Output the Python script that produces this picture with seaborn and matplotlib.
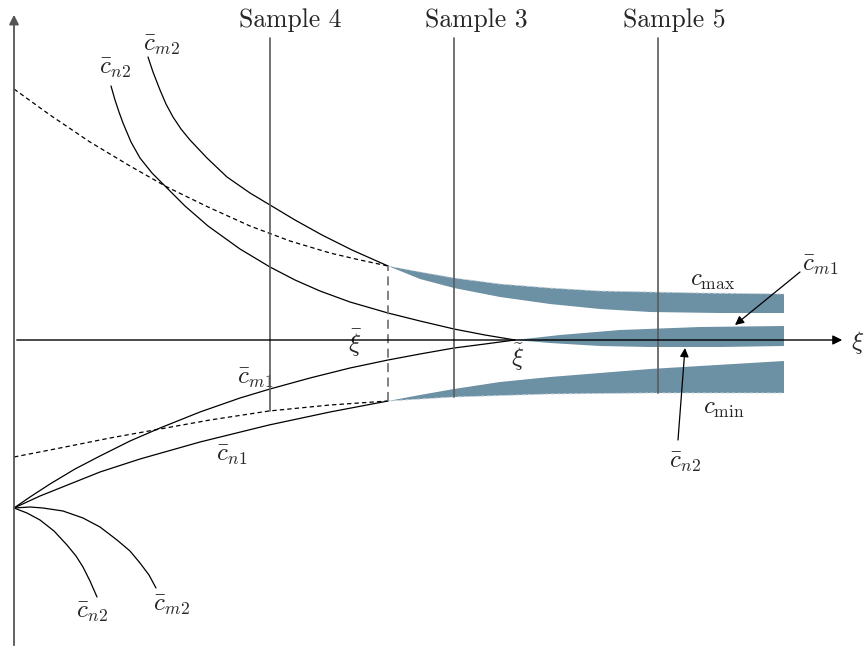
import numpy as np
import pandas as pd
import seaborn as sns
import matplotlib.pyplot as plt

# curve samples (xi along the axis, c up)
cmax_xi = [0, 36, 76, 116, 153, 194, 236, 276, 316, 346, 374, 406, 440, 486, 536, 586, 636, 686, 770]
cmax_c = [251, 225, 198, 174, 153, 133, 114, 99, 87, 80, 74, 68, 62, 56, 52, 49, 48, 47, 46]

cm2_xi = [134, 139, 146, 152, 159, 167, 176, 193, 213, 236, 256, 281, 308, 338, 374,
          406, 440, 486, 536, 586, 636, 706, 770]
cm2_c = [283, 268, 250, 236, 223, 211, 200, 182, 163, 147, 135, 120, 105, 90, 74,
         61, 52, 43, 36, 31, 28, 27, 27]

cn2_xi = [97, 101, 105, 109, 117, 126, 138, 151, 171, 194, 226, 256, 281, 306, 336, 374,
          406, 440, 471, 501, 536, 586, 636, 706, 770]
cn2_c = [254, 240, 228, 217, 198, 182, 167, 154, 134, 114, 91, 73, 60, 49, 38, 27,
         19, 11, 5, 0, -3, -6, -7, -7, -6]

cm1_xi = [0, 16, 36, 61, 86, 116, 146, 186, 226, 256, 296, 336, 374, 406, 440, 471, 501,
          546, 606, 686, 770]
cm1_c = [-168, -157, -144, -129, -116, -101, -88, -72, -58, -49, -38, -28, -20, -14, -8, -4, 0,
         5, 10, 13, 14]

cn1_xi = [0, 26, 56, 86, 126, 186, 255, 316, 374, 406, 440, 486, 536, 586, 636, 686, 770]
cn1_c = [-168, -156, -144, -132, -119, -102, -85, -72, -61, -55, -49, -42, -37, -33, -29, -26, -21]

cmin_xi = [0, 46, 96, 146, 196, 255, 316, 374, 440, 536, 636, 770]
cmin_c = [-117, -108, -98, -89, -80, -71, -65, -61, -57, -54, -53, -53]

# branches below the axis, starting at the same point
cn2_low_xi = [0, 13, 26, 40, 53, 62, 69, 76, 83]
cn2_low_c = [-168, -173, -180, -191, -205, -216, -227, -241, -257]
cm2_low_xi = [0, 16, 29, 49, 69, 86, 103, 116, 126, 135, 142]
cm2_low_c = [-168, -167, -168, -171, -178, -187, -200, -211, -223, -235, -248]

samples = ["Sample 4", "Sample 3", "Sample 5"]
sample_xi = [256, 440, 644]
sample_label_xi = [276, 462, 660]
sample_bottom = [-71, -57, -53]
sample_top = 302

xi_bar = 374
xi_tilde = 501

band = "#6c90a4"
sns.set_style("white")
plt.rcParams["mathtext.fontset"] = "cm"

fig = plt.figure(figsize=(8.66, 6.51), dpi=100)
ax = fig.add_axes([0, 0, 1, 1])
ax.set_xlim(-14, 852)
ax.set_ylim(-311, 340)
ax.axis("off")


def cut(xs, ys, lo=None, hi=None):
    xs, ys = np.array(xs), np.array(ys)
    m = np.ones(len(xs), bool)
    if lo is not None:
        m &= xs >= lo
    if hi is not None:
        m &= xs <= hi
    return xs[m], ys[m]


def line(xs, ys, **kw):
    df = pd.DataFrame({"xi": xs, "c": ys})
    sns.lineplot(data=df, x="xi", y="c", sort=False, estimator=None, ax=ax, **kw)


# shaded bands
def shade(top, bot, lo):
    tx, ty = cut(*top, lo=lo)
    bx, by = cut(*bot, lo=lo)
    ax.fill(np.r_[tx, bx[::-1]], np.r_[ty, by[::-1]], color=band, lw=0, zorder=2)


shade((cmax_xi, cmax_c), (cm2_xi, cm2_c), xi_bar)
shade((cm1_xi, cm1_c), (cn2_xi, cn2_c), xi_tilde)
shade((cn1_xi, cn1_c), (cmin_xi, cmin_c), xi_bar)

dash = (0, (3.5, 2.5))
k = dict(color="black", lw=0.9, zorder=3)
line(*cut(cmax_xi, cmax_c, hi=xi_bar), ls=dash, **k)
line(*cut(cmin_xi, cmin_c, hi=xi_bar), ls=dash, **k)
line(*cut(cmax_xi, cmax_c, lo=xi_bar), ls=dash, color="#c8d3da", lw=0.7, zorder=3)
line(*cut(cmin_xi, cmin_c, lo=xi_bar), ls=dash, color="#c8d3da", lw=0.7, zorder=3)
line(*cut(cm2_xi, cm2_c, hi=xi_bar), **k)
line(*cut(cn2_xi, cn2_c, hi=xi_tilde), **k)
line(*cut(cm1_xi, cm1_c, hi=xi_tilde), **k)
line(*cut(cn1_xi, cn1_c, hi=xi_bar), **k)
line(cn2_low_xi, cn2_low_c, **k)
line(cm2_low_xi, cm2_low_c, **k)

# sample positions
for name, sx, lx, sb in zip(samples, sample_xi, sample_label_xi, sample_bottom):
    ax.plot([sx, sx], [sb, sample_top], color="#5a5a5a", lw=1.2, zorder=4)
    ax.text(lx, 320, name, family="cmr10", fontsize=18.5, ha="center", va="center")

ax.plot([xi_bar, xi_bar], [-61, 74], color="#777777", lw=1.3, ls=(0, (5, 3)), zorder=4)

# axes
ax.annotate("", xy=(831, 0), xytext=(0, 0),
            arrowprops=dict(arrowstyle="-|>", color="black", lw=1.0, mutation_scale=14), zorder=5)
ax.annotate("", xy=(0, 328), xytext=(0, -308),
            arrowprops=dict(arrowstyle="-|>", color="#555555", lw=1.3, mutation_scale=14), zorder=5)

fs = 18
labels = [
    (r"$\bar{c}_{m2}$", 148, 295), (r"$\bar{c}_{n2}$", 101, 272),
    (r"$\bar{\xi}$", 341, -2), (r"$\tilde{\xi}$", 504, -17), (r"$\xi$", 844, -3),
    (r"$c_{\max}$", 699, 60), (r"$c_{\min}$", 710, -68),
    (r"$\bar{c}_{m1}$", 241, -38), (r"$\bar{c}_{n1}$", 218, -115),
    (r"$\bar{c}_{n2}$", 78, -272), (r"$\bar{c}_{m2}$", 158, -265),
    (r"$\bar{c}_{m1}$", 806, 75), (r"$\bar{c}_{n2}$", 671, -122),
]
for s, x, y in labels:
    ax.text(x, y, s, fontsize=fs, ha="center", va="center")

# pointer arrows into the middle band
arrow = dict(arrowstyle="-|>", color="black", lw=0.9, shrinkA=0, shrinkB=0, mutation_scale=13)
ax.annotate("", xy=(721, 15), xytext=(786, 68), arrowprops=arrow, zorder=5)
ax.annotate("", xy=(671, -8), xytext=(664, -100), arrowprops=arrow, zorder=5)

fig.savefig("out.png", dpi=100)
